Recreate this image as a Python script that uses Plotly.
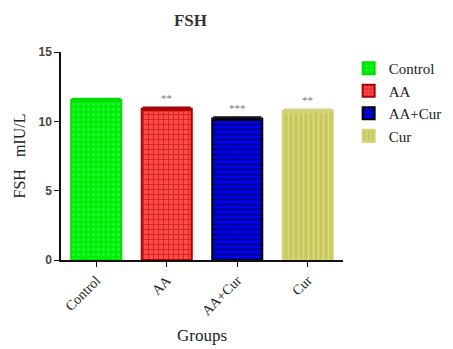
import plotly.graph_objects as go

groups = ["Control", "AA", "AA+Cur", "Cur"]
fsh_values = [11.55, 10.9, 10.2, 10.75]
fsh_errors = [0.1, 0.12, 0.12, 0.12]
significance = ["", "**", "***", "**"]
y_ticks = [0, 5, 10, 15]

fill_colors = ["#00ee00", "#ff4a4a", "#0000ee", "#c8c85a"]
line_colors = ["#00dd00", "#aa0000", "#000000", "#d2d27a"]
pattern_fg = ["#33ff66", "#aa0000", "#000000", "#eeeeaa"]
pattern_shapes = [".", "+", "-", "|"]

serif = "Liberation Serif, Times New Roman, serif"

fig = go.Figure()
for i, g in enumerate(groups):
    fig.add_trace(go.Bar(
        x=[g], y=[fsh_values[i]], name=g,
        width=0.71,
        marker=dict(color=fill_colors[i],
                    line=dict(color=line_colors[i], width=2),
                    pattern=dict(shape=pattern_shapes[i], fgcolor=pattern_fg[i],
                                 size=5, solidity=0.35)),
        error_y=dict(type="data", array=[fsh_errors[i]], color=line_colors[i],
                     thickness=1.5, width=24),
    ))
    if significance[i]:
        fig.add_annotation(x=g, y=fsh_values[i] + fsh_errors[i], text=significance[i],
                           showarrow=False, yshift=9,
                           font=dict(family=serif, size=11, color="#777777"))

fig.update_layout(
    width=445, height=341,
    margin=dict(l=53, r=110, t=44, b=89, autoexpand=False),
    plot_bgcolor="white", paper_bgcolor="white",
    bargap=0.29,
    title=dict(text="FSH", x=0.41, xanchor="center", y=0.965, yanchor="middle",
               font=dict(family=serif, size=17, color="#333", weight="bold")),
    showlegend=True,
    legend=dict(x=1.02, y=1.0, xanchor="left", yanchor="top",
                font=dict(family=serif, size=15, color="#222"),
                tracegroupgap=2, itemwidth=30),
    xaxis=dict(showline=True, linecolor="#111", linewidth=1.5, automargin=False,
               ticks="outside", ticklen=5, tickcolor="#111", tickangle=-45,
               tickfont=dict(family=serif, size=14, color="#222"),
               title=dict(text="Groups", font=dict(family=serif, size=17, color="#222"),
                          standoff=12)),
    yaxis=dict(range=[0, 15], tickvals=y_ticks, showline=True, linecolor="#111",
               linewidth=1.5, ticks="outside", ticklen=5, tickcolor="#111",
               showgrid=False, zeroline=False, automargin=False,
               tickfont=dict(family="Liberation Sans, Arial, sans-serif", size=12, color="#444", weight="bold"),
               title=dict(text="FSH&nbsp;&nbsp;&nbsp;mIU/L",
                          font=dict(family=serif, size=16, color="#222"),
                          standoff=9)),
)

fig.write_html("out.html")
